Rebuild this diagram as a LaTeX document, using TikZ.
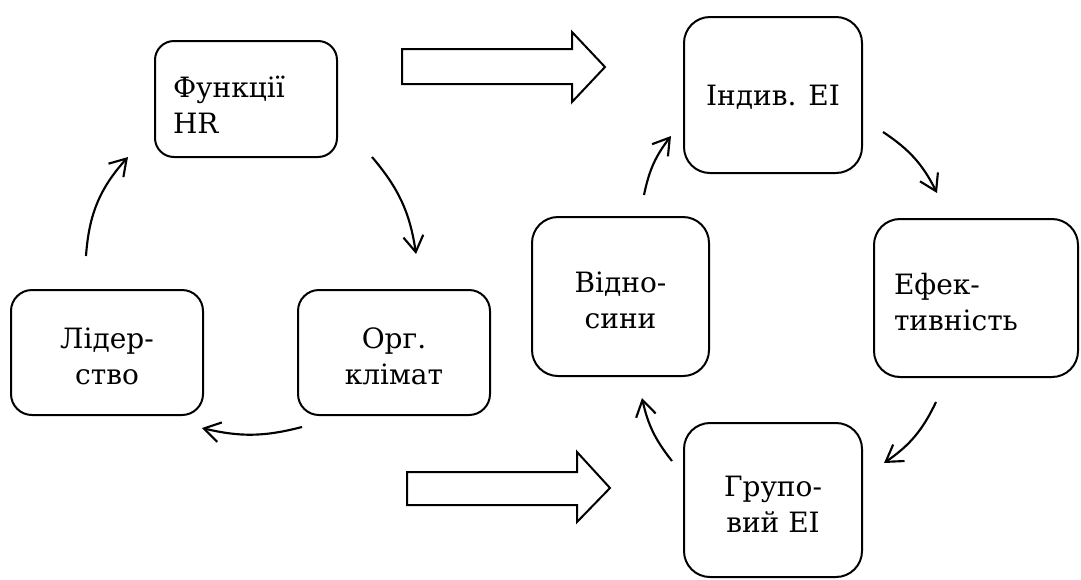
\documentclass[tikz,border=0pt]{standalone}
\usepackage{fontspec}
\setmainfont{DejaVu Serif}
\usetikzlibrary{arrows.meta}
\begin{document}
\begin{tikzpicture}[x=0.75pt,y=-0.75pt,
  card/.style={draw, line width=1.5pt, inner sep=0pt},
  smallcard/.style={card, minimum width=144pt, minimum height=93.75pt, rounded corners=15.75pt},
  bigcard/.style={card, minimum width=133.5pt, rounded corners=19.5pt},
  caption/.style={inner sep=0pt, align=center, yshift=-3pt,
    font=\fontsize{21}{27}\selectfont},
  flow/.style={line width=1.6pt, -{Straight Barb[length=12pt,width=15pt]}},
  blockarrow/.style={draw, line width=1.5pt, fill=white}
]
\useasboundingbox (0,0) rectangle (1081,579);

% left cycle: boxes
\node[card, minimum width=136.5pt, minimum height=87pt, rounded corners=14.25pt] (hr) at (246,99) {};
\node[smallcard] (lid) at (107,352.5) {};
\node[smallcard] (org) at (394,352.5) {};

% right cycle: boxes
\node[bigcard, minimum height=117pt] (ind) at (773,95) {};
\node[bigcard, minimum width=132.75pt, minimum height=119.25pt] (vid) at (620.5,296.5) {};
\node[card, minimum width=153pt, minimum height=118.5pt, rounded corners=19.5pt] (ef) at (976,298) {};
\node[bigcard, minimum height=115.5pt] (gr) at (773,500) {};

% box texts
\node[caption, text width=109.5pt, align=left, yshift=-1.5pt] (hr-t) at (hr.center) {Функції\\HR};
\node[caption] (lid-t) at (lid.center) {Лідер-\\ство};
\node[caption] (org-t) at (org.center) {Орг.\\клімат};
\node[caption, yshift=1pt] (ind-t) at (ind.center) {Індив. ЕІ};
\node[caption] (vid-t) at (vid.center) {Відно-\\сини};
\node[caption, text width=123pt, align=left] (ef-t) at (ef.center) {Ефек-\\тивність};
\node[caption] (gr-t) at (gr.center) {Групо-\\вий ЕІ};

% ends of the curved connectors
\coordinate (lidA) at (86,256);   \coordinate (hrB) at (128,157);
\coordinate (hrA) at (372,157);   \coordinate (orgB) at (416,254);
\coordinate (orgA) at (302,427);  \coordinate (lidB) at (202,428);
\coordinate (vidA) at (644,195);  \coordinate (indB) at (671,136);
\coordinate (indA) at (883,132);  \coordinate (efB) at (937,193);
\coordinate (efA) at (936,402);   \coordinate (grB) at (884,463);
\coordinate (grA) at (672,461);   \coordinate (vidB) at (642,398);

\draw[flow] (lidA) to[bend left=19] (hrB);
\draw[flow] (hrA) to[bend left=16] (orgB);
\draw[flow] (orgA) to[bend left=14] (lidB);

\draw[flow] (vidA) to[bend left=13] (indB);
\draw[flow] (indA) to[bend left=15] (efB);
\draw[flow] (efA) to[bend left=15] (grB);
\draw[flow] (grA) to[bend left=13] (vidB);

% block arrows between the two cycles
\draw[blockarrow] (402,49) -- (572,49) -- (572,32) -- (605,67) -- (572,102)
  -- (572,84) -- (402,84) -- cycle;
\draw[blockarrow] (407,472) -- (577,472) -- (577,452) -- (610,488) -- (577,522)
  -- (577,505) -- (407,505) -- cycle;
\end{tikzpicture}
\end{document}
